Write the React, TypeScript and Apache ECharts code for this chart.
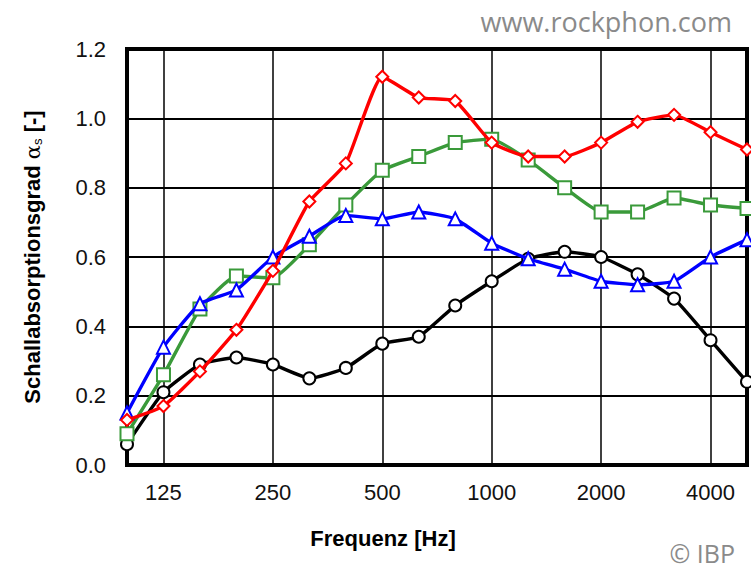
import React, { useEffect, useRef } from "react";
import * as echarts from "echarts";

const frequencies = ["100", "125", "160", "200", "250", "315", "400", "500", "630", "800", "1000", "1250", "1600", "2000", "2500", "3150", "4000", "5000"];
const blackValues = [0.06, 0.21, 0.29, 0.31, 0.29, 0.25, 0.28, 0.35, 0.37, 0.46, 0.53, 0.595, 0.615, 0.60, 0.55, 0.48, 0.36, 0.24];
const greenValues = [0.09, 0.26, 0.45, 0.545, 0.54, 0.635, 0.75, 0.85, 0.89, 0.93, 0.94, 0.88, 0.80, 0.73, 0.73, 0.77, 0.75, 0.74];
const blueValues = [0.15, 0.34, 0.465, 0.505, 0.60, 0.66, 0.72, 0.71, 0.73, 0.71, 0.64, 0.595, 0.565, 0.53, 0.52, 0.53, 0.60, 0.65];
const redValues = [0.13, 0.17, 0.27, 0.39, 0.56, 0.76, 0.87, 1.12, 1.06, 1.05, 0.93, 0.89, 0.89, 0.93, 0.99, 1.01, 0.96, 0.91];
const yTicks = [0, 0.2, 0.4, 0.6, 0.8, 1.0, 1.2];

const FONT = "'Liberation Sans', Arial, sans-serif";

export default function App() {
  const ref = useRef<HTMLDivElement>(null);
  useEffect(() => {
    if (!ref.current) return;
    const chart = echarts.init(ref.current, null, { renderer: "svg" });
    const mk = (name: string, data: number[], color: string, symbol: string, size: number, z: number) => ({
      name,
      type: "line",
      data,
      smooth: 0.15,
      z,
      lineStyle: { color, width: 3.4 },
      itemStyle: { color: "#ffffff", borderColor: color, borderWidth: 2 },
      symbol,
      symbolSize: size,
      showAllSymbol: true,
    });
    chart.setOption({
      animation: false,
      backgroundColor: "#ffffff",
      grid: {
        left: 127,
        right: 4,
        top: 49,
        bottom: 106,
        show: true,
        borderColor: "#000000",
        borderWidth: 4,
        containLabel: false,
      },
      xAxis: {
        type: "category",
        data: frequencies,
        boundaryGap: false,
        axisLine: { show: false },
        axisTick: { show: false },
        axisLabel: {
          interval: (i: number) => i % 3 === 1,
          color: "#111111",
          fontFamily: FONT,
          fontSize: 22,
          margin: 16,
        },
        splitLine: {
          show: true,
          interval: (i: number) => i % 3 === 1,
          lineStyle: { color: "#000000", width: 1.5 },
        },
      },
      yAxis: {
        type: "value",
        min: yTicks[0],
        max: yTicks[yTicks.length - 1],
        interval: 0.2,
        axisLine: { show: false },
        axisTick: { show: false },
        axisLabel: {
          formatter: (v: number) => v.toFixed(1),
          color: "#111111",
          fontFamily: FONT,
          fontSize: 22,
          margin: 21,
        },
        splitLine: { show: true, lineStyle: { color: "#000000", width: 2.2 } },
        name: "Schallabsorptionsgrad {a|α}{s|s} [-]",
        nameLocation: "middle",
        nameGap: 83,
        nameTextStyle: {
          fontFamily: FONT,
          fontSize: 22,
          fontWeight: "bold",
          color: "#000000",
          rich: {
            a: { fontFamily: "'DejaVu Serif', serif", fontSize: 21, fontWeight: "normal", color: "#000000" },
            s: { fontFamily: FONT, fontSize: 13, fontWeight: "normal", color: "#000000", verticalAlign: "bottom", padding: [10, 0, 0, 0] },
          },
        },
      },
      graphic: [
        {
          type: "text",
          x: 383,
          y: 538,
          style: {
            text: "Frequenz [Hz]",
            font: `bold 22px ${FONT}`,
            fill: "#000000",
            textAlign: "center",
            textVerticalAlign: "middle",
          },
        },
        {
          type: "text",
          x: 732,
          y: 21,
          style: {
            text: "www.rockphon.com",
            font: "27px 'Open Sans', sans-serif",
            fill: "#8a8a8a",
            textAlign: "right",
            textVerticalAlign: "middle",
          },
        },
        {
          type: "text",
          x: 735,
          y: 553,
          style: {
            text: "© IBP",
            font: "25px 'Open Sans', sans-serif",
            lineHeight: 25,
            fill: "#8a8a8a",
            textAlign: "right",
            textVerticalAlign: "middle",
          },
        },
      ],
      series: [
        mk("Serie 1", blackValues, "#000000", "circle", 12, 2),
        mk("Serie 2", greenValues, "#3a9a3a", "rect", 13, 3),
        mk("Serie 3", blueValues, "#0000ff", "triangle", 13, 4),
        mk("Serie 4", redValues, "#ff0000", "diamond", 12, 5),
      ],
    });
    return () => chart.dispose();
  }, []);
  return <div ref={ref} style={{ position: "fixed", left: 0, top: 0, width: 751, height: 571 }} />;
}
